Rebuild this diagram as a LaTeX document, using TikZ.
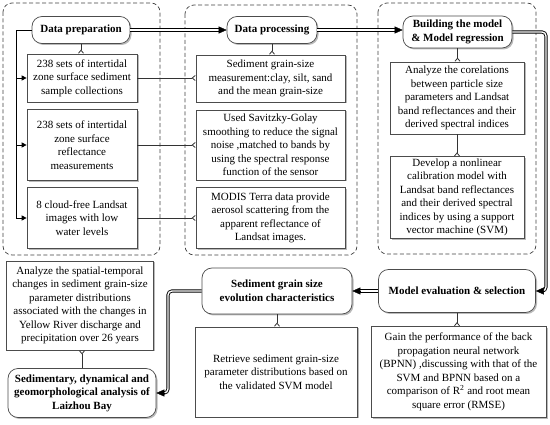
\documentclass[tikz,border=0pt]{standalone}
\usepackage{fontspec}
\setmainfont{Liberation Serif}
\usetikzlibrary{arrows.meta,shadows,calc}
\begin{document}
\begin{tikzpicture}[x=1pt,y=-1pt,
 every node/.style={font=\fontsize{11}{13.5}\selectfont, align=center, inner sep=2pt},
 grp/.style={draw=black!75, dash pattern=on 4pt off 2.5pt, rounded corners=9pt, line width=0.7pt},
 box/.style={draw=black!70, fill=white, line width=0.7pt, drop shadow={shadow xshift=1.5pt, shadow yshift=-1.5pt, fill=black!45, opacity=0.6}},
 rbox/.style={box, rounded corners=10pt, font=\bfseries\fontsize{11}{13.5}\selectfont},
 lnk/.style={draw=black!80, line width=0.8pt, -{Straight Barb[reversed,length=3pt,width=5pt]}},
 fed/.style={draw=black, line width=0.9pt, -{Triangle[length=5pt,width=5pt]}},
 dbl/.style={draw=black, double=white, double distance=1.4pt, line width=0.9pt, shorten >=6pt},
 tipa/.style={draw=black, line width=0.4pt, -{Triangle[length=8pt,width=7pt]}}
]
\useasboundingbox (0,0) rectangle (550,425);
% groups
\draw[grp] (3,3) rectangle (160,255);
\draw[grp] (185,5) rectangle (357,255);
\draw[grp] (378,3) rectangle (536,254);
% column 1
\node[rbox, minimum width=98, minimum height=27] (dprep) at (81,30) {Data preparation};
\node[box, minimum width=110, minimum height=48] (b1) at (82,78) {238 sets of intertidal\\zone surface sediment\\sample collections};
\node[box, minimum width=110, minimum height=71] (b2) at (82,145) {238 sets of intertidal\\zone surface\\reflectance\\measurements};
\node[box, minimum width=110, minimum height=61] (b3) at (82,218) {8 cloud-free Landsat\\images with low\\water levels};
% column 2
\node[rbox, minimum width=90, minimum height=27] (dproc) at (272,30) {Data processing};
\node[box, minimum width=149, minimum height=47] (p1) at (270.5,78.5) {Sediment grain-size\\measurement:clay, silt, sand\\and the mean grain-size};
\node[box, minimum width=149, minimum height=70] (p2) at (270.5,145) {Used Savitzky-Golay\\smoothing to reduce the signal\\noise ,matched to bands by\\using the spectral response\\function of the sensor};
\node[box, minimum width=149, minimum height=61] (p3) at (270.5,218) {MODIS Terra data provide\\aerosol scattering from the\\apparent reflectance of\\Landsat images.};
% column 3
\node[rbox, minimum width=109, minimum height=32] (build) at (457.5,32) {Building the model\\\& Model regression};
\node[box, minimum width=134, minimum height=72] (m1) at (457,98) {Analyze the corelations\\between particle size\\parameters and Landsat\\band reflectances and their\\derived spectral indices};
\node[box, minimum width=134, minimum height=81] (m2) at (457,197.5) {Develop a nonlinear\\calibration model with\\Landsat band reflectances\\and their derived spectral\\indices by using a support\\vector machine (SVM)};
% bottom
\node[rbox, minimum width=157, minimum height=43] (eval) at (457,291) {Model evaluation \& selection};
\node[box, minimum width=175, minimum height=91] (gain) at (458.5,372) {Gain the performance of the back\\propagation neural network\\(BPNN) ,discussing with that of the\\SVM and BPNN based on a\\comparison of R\textsuperscript{2} and root mean\\square error (RMSE)};
\node[rbox, minimum width=150, minimum height=46] (sev) at (277,291) {Sediment grain size\\evolution characteristics};
\node[box, minimum width=162, minimum height=90] (ret) at (276,372) {Retrieve sediment grain-size\\parameter distributions based on\\the validated SVM model};
\node[box, minimum width=147, minimum height=89] (ana) at (80,305.5) {Analyze the spatial-temporal\\changes in sediment grain-size\\parameter distributions\\associated with the changes in\\Yellow River discharge and\\precipitation over 26 years};
\node[rbox, minimum width=148, minimum height=49] (sedl) at (82,393) {Sedimentary, dynamical and\\geomorphological analysis of\\Laizhou Bay};
% coordinates
\coordinate (lc) at (16,0);
\coordinate (rc) at (546,0);
\coordinate (lc2) at (168,0);
% double connectors
\draw[dbl] (dprep.east) -- (dprep.east -| dproc.west);
\draw[tipa] ($(dprep.east -| dproc.west)+(-8,0)$) -- (dprep.east -| dproc.west);
\draw[dbl] (dproc.east) -- (dproc.east -| build.west);
\draw[tipa] ($(dproc.east -| build.west)+(-8,0)$) -- (dproc.east -| build.west);
\draw[dbl, rounded corners=4pt] (build.east) -| (rc |- eval.east) -- (eval.east);
\draw[tipa] ($(eval.east)+(8,0)$) -- (eval.east);
\draw[dbl] (eval.west) -- (sev.east);
\draw[tipa] ($(sev.east)+(8,0)$) -- (sev.east);
\draw[dbl, rounded corners=4pt] (sev.west) -| (lc2 |- sedl.east) -- (sedl.east);
\draw[tipa] ($(sedl.east)+(8,0)$) -- (sedl.east);
% left feeder
\draw[draw=black, line width=0.9pt] (dprep.west) -| (lc |- b3.west);
\foreach \b in {b1,b2,b3} \draw[fed] (lc |- \b.west) -- (\b.west);
% links
\draw[lnk] (dprep.south) -- (dprep.south |- b1.north);
\draw[lnk] (b1.east) -- (b1.east -| p1.west);
\draw[lnk] (b2.east) -- (b2.east -| p2.west);
\draw[lnk] (b3.east) -- (b3.east -| p3.west);
\draw[lnk] (dproc.south) -- (dproc.south |- p1.north);
\draw[lnk] (build.south) -- (build.south |- m1.north);
\draw[lnk] (m1.south) -- (m1.south |- m2.north);
\draw[lnk] (eval.south) -- (eval.south |- gain.north);
\draw[lnk] (sev.south) -- (sev.south |- ret.north);
\draw[lnk] (sedl.north) -- (sedl.north |- ana.south);
\end{tikzpicture}
\end{document}
